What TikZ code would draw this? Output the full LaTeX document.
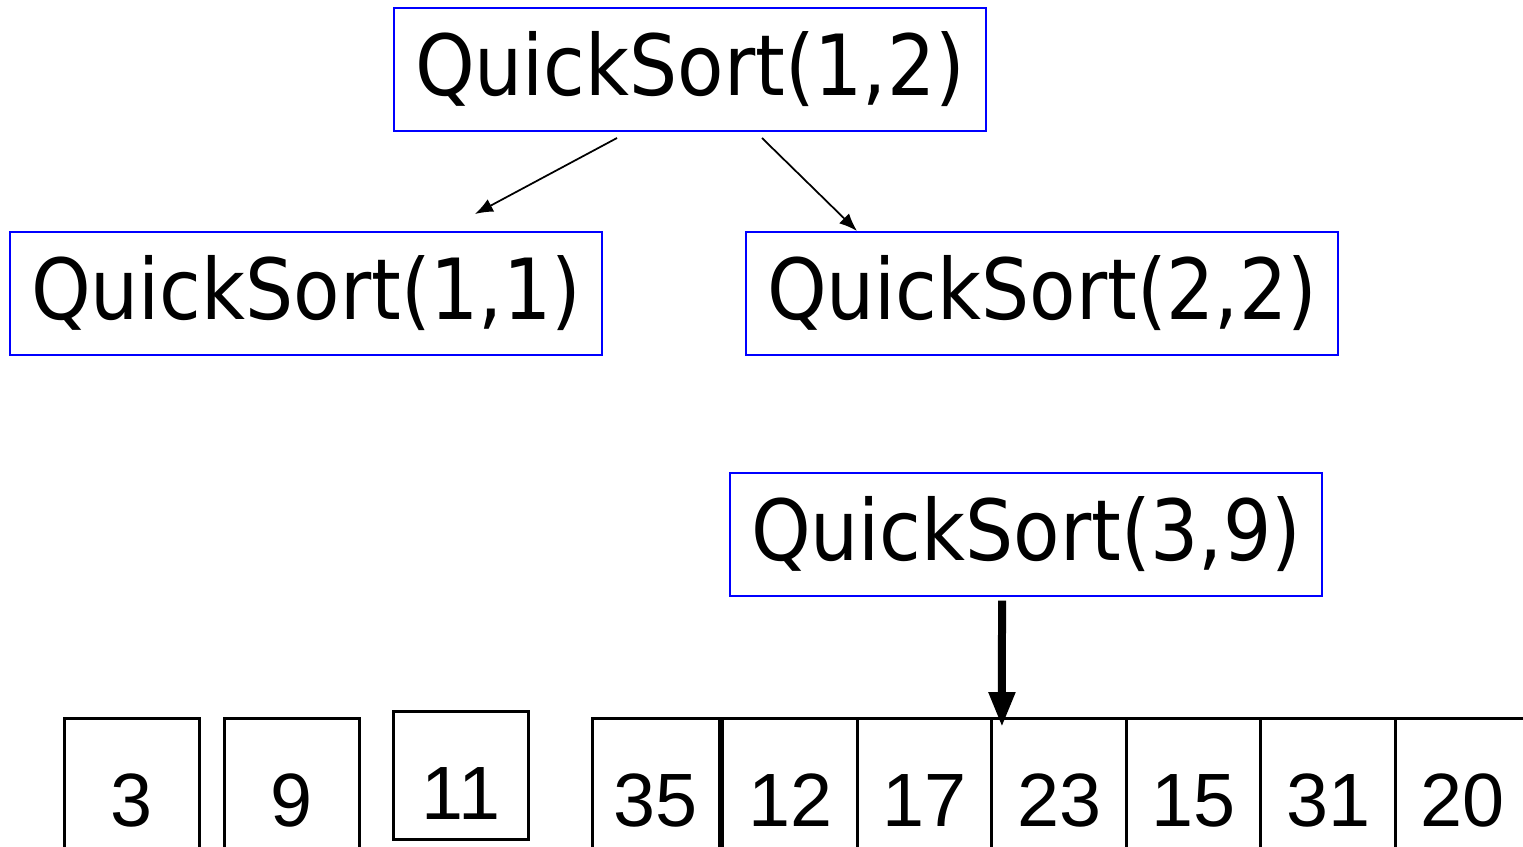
\documentclass[tikz,border=0pt]{standalone}
\usepackage{fontspec}
\setmainfont{Liberation Sans}
\newfontfamily\qsfont{DejaVu Sans Condensed}
\usepackage{tikz}
\usetikzlibrary{arrows.meta}
\usetikzlibrary{positioning}
\tikzset{qsbox/.style={draw=blue,line width=0.04cm,rectangle,minimum width=11.84cm,minimum height=2.46cm,inner sep=0pt,font=\qsfont\fontsize{48}{56}\selectfont}}
\tikzset{cell/.style={draw=black,line width=0.06cm,rectangle,minimum width=2.69cm,inner sep=0pt,outer sep=0pt,text height=2.18cm,text depth=1.2cm,font=\fontsize{43}{50}\selectfont}}
\tikzset{call/.style={-{Latex[length=0.36cm,width=0.28cm]},line width=0.035cm}}

\begin{document}
\begin{tikzpicture}[x=0.02cm,y=-0.02cm]
\useasboundingbox (0,0) rectangle (1523,846);
\clip (0,0) rectangle (1523,846);

% recursive calls
\draw node[qsbox] at (690,69.5) (qs12) {QuickSort(1,2)};
\draw node[qsbox] at (306,293.5) (qs11) {QuickSort(1,1)};
\draw node[qsbox] at (1042,293.5) (qs22) {QuickSort(2,2)};
\draw node[qsbox] at (1026,534) (qs39) {QuickSort(3,9)};

\draw[call] ([xshift=-1.46cm,yshift=-0.12cm]qs12.south) -- ([xshift=3.38cm,yshift=0.34cm]qs11.north);
\draw[call] ([xshift=1.44cm,yshift=-0.12cm]qs12.south) -- ([xshift=-3.7cm]qs22.north);

% the array
\draw node[cell,anchor=north west,minimum width=2.72cm] at (64,718) (n3) {3};
\draw node[cell,anchor=north west,minimum width=2.72cm] at (224,718) (n9) {9};
\draw node[cell,anchor=north west,minimum width=2.72cm,text depth=0.4cm] at (393,711) (n11) {11};
\draw node[cell,anchor=north west,minimum width=2.56cm] at (592,718) (n35) {35};
\draw node[cell,right=0.06cm of n35] (n12) {12};
\draw node[cell,right=0pt of n12] (n17) {17};
\draw node[cell,right=0pt of n17] (n23) {23};
\draw node[cell,right=0pt of n23] (n15) {15};
\draw node[cell,right=0pt of n15] (n31) {31};
\draw node[cell,right=0pt of n31] (n20) {20};

% pivot
\draw[line width=0.16cm,-{Triangle[length=0.7cm,width=0.5cm]}] ([xshift=-0.48cm,yshift=-0.08cm]qs39.south) -- ([xshift=0.2cm,yshift=-0.18cm]n23.north west);

\end{tikzpicture}
\end{document}
